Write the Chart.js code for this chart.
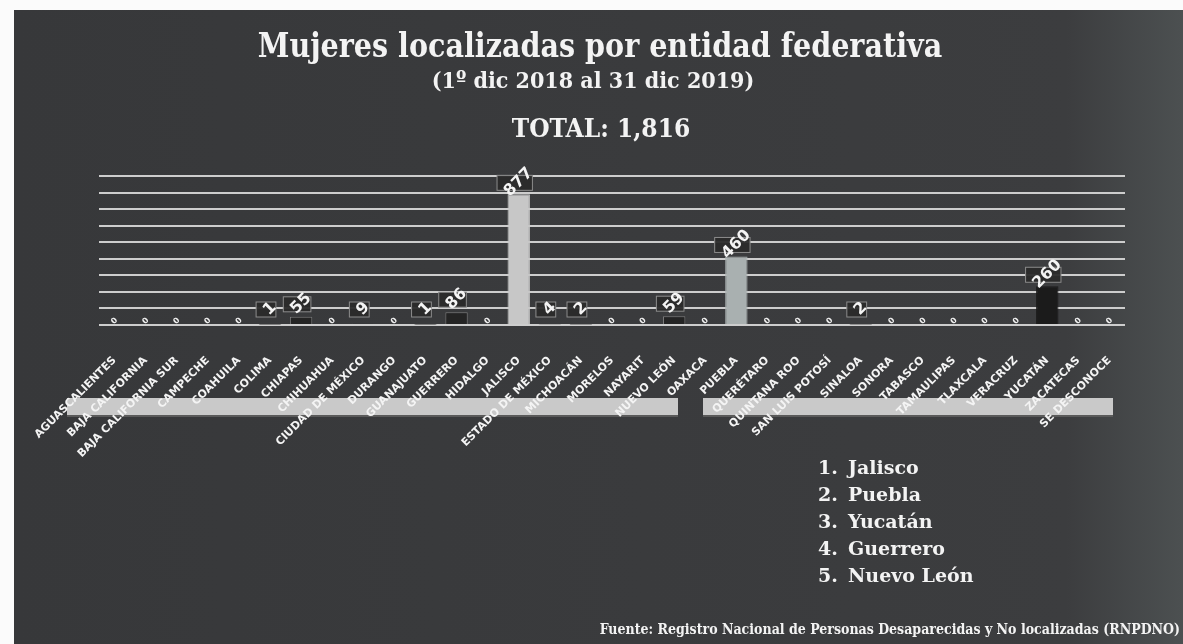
<!DOCTYPE html>
<html>
<head>
<meta charset="utf-8">
<script src="https://cdn.jsdelivr.net/npm/chart.js@4.4.1/dist/chart.umd.min.js"></script>
<style>
  html, body { margin: 0; padding: 0; background: #fff; }
  #wrap { position: relative; width: 1183px; height: 644px; overflow: hidden; }
  #chart { position: absolute; left: 0; top: 0; }
  .txt { position: absolute; color: #f3f3f3; font-family: "DejaVu Serif Condensed", "DejaVu Serif", serif; font-weight: bold; white-space: nowrap; }
  #title { left: 0; width: 1200px; top: 25px; text-align: center; font-size: 34px; transform: scaleX(0.935); }
  #subtitle { left: 0; width: 1186px; top: 66px; text-align: center; font-size: 23px; }
  #total { left: 0; width: 1202px; top: 113px; text-align: center; font-size: 26px; }
  #top5 { left: 818px; top: 454px; font-size: 19px; line-height: 27px; font-family: "DejaVu Serif", serif; }
  #top5 span { display: inline-block; width: 30px; }
  #source { right: 3px; top: 621px; font-size: 14px; }
</style>
</head>
<body>
<div id="wrap">
  <canvas id="chart" width="1183" height="644"></canvas>
  <div class="txt" id="title">Mujeres localizadas por entidad federativa</div>
  <div class="txt" id="subtitle">(1º dic 2018 al 31 dic 2019)</div>
  <div class="txt" id="total">TOTAL: 1,816</div>
  <div class="txt" id="top5"></div>
  <div class="txt" id="source">Fuente: Registro Nacional de Personas Desaparecidas y No localizadas (RNPDNO)</div>
</div>
<script>
// estados en el orden de la grafica
const entidades = ['AGUASCALIENTES','BAJA CALIFORNIA','BAJA CALIFORNIA SUR','CAMPECHE','COAHUILA','COLIMA','CHIAPAS','CHIHUAHUA','CIUDAD DE MÉXICO','DURANGO','GUANAJUATO','GUERRERO','HIDALGO','JALISCO','ESTADO DE MÉXICO','MICHOACÁN','MORELOS','NAYARIT','NUEVO LEÓN','OAXACA','PUEBLA','QUERÉTARO','QUINTANA ROO','SAN LUIS POTOSÍ','SINALOA','SONORA','TABASCO','TAMAULIPAS','TLAXCALA','VERACRUZ','YUCATÁN','ZACATECAS','SE DESCONOCE'];
const localizadas = [0,0,0,0,0,1,55,0,9,0,1,86,0,877,4,2,0,0,59,0,460,0,0,0,2,0,0,0,0,0,260,0,0];
const topCinco = ['Jalisco','Puebla','Yucatán','Guerrero','Nuevo León'];

document.getElementById('top5').innerHTML = topCinco.map((n,i)=>'<span>'+(i+1)+'.</span>'+n).join('<br>');

const colorBarra = {'JALISCO':'#c7c7c7','PUEBLA':'#a9b0b0','YUCATÁN':'#1b1b1b'};
const fondo = {
  id: 'fondo',
  beforeDraw(chart){
    const ctx = chart.ctx;
    ctx.save();
    ctx.fillStyle = '#fbfbfb';
    ctx.fillRect(0,0,chart.width,chart.height);
    const g = ctx.createLinearGradient(14,0,chart.width,0);
    g.addColorStop(0,'#37383a');
    g.addColorStop(0.9,'#3c3d3f');
    g.addColorStop(1,'#4c5051');
    ctx.fillStyle = g;
    ctx.fillRect(14,10,chart.width-14,chart.height-10);
    // franja gris detras de los nombres
    ctx.fillStyle = '#c9c9c9';
    ctx.fillRect(67,398,611,17);
    ctx.fillRect(703,398,410,17);
    ctx.fillStyle = '#5a5a5a';
    ctx.fillRect(67,415,611,2);
    ctx.fillRect(703,415,410,2);
    ctx.restore();
  }
};

const etiquetas = {
  id: 'etiquetas',
  afterDatasetsDraw(chart){
    const ctx = chart.ctx;
    const meta = chart.getDatasetMeta(0);
    ctx.save();
    meta.data.forEach((bar,i)=>{
      const v = localizadas[i];
      const txt = String(v);
      if (v === 0) {
        ctx.font = 'bold 8px "DejaVu Sans"';
        ctx.fillStyle = '#f0f0f0';
        ctx.translate(bar.x, bar.y - 4);
        ctx.rotate(-Math.PI/4);
        ctx.textAlign = 'center'; ctx.textBaseline = 'middle';
        ctx.fillText('0',0,0);
        ctx.setTransform(1,0,0,1,0,0);
        return;
      }
      ctx.font = 'bold 16px "DejaVu Sans"';
      const w = ctx.measureText(txt).width;
      const top = Math.min(bar.y, chart.chartArea.bottom - 8);
      const cy = top - (3 + 5*txt.length) + (txt.length > 2 ? 6 : 0);
      const bw = w*0.7 + 12;
      ctx.fillStyle = 'rgba(42,42,42,0.95)';
      ctx.strokeStyle = '#8c8c8c';
      ctx.lineWidth = 1;
      ctx.fillRect(bar.x - bw/2 - 4, cy - 7, bw, 15);
      ctx.strokeRect(bar.x - bw/2 - 4, cy - 7, bw, 15);
      ctx.fillStyle = '#f4f4f4';
      ctx.translate(bar.x, cy);
      ctx.rotate(-Math.PI/4);
      ctx.textAlign = 'center'; ctx.textBaseline = 'middle';
      ctx.fillText(txt,0,0);
      ctx.setTransform(1,0,0,1,0,0);
    });
    ctx.restore();
  }
};

new Chart(document.getElementById('chart'), {
  type: 'bar',
  data: {
    labels: entidades,
    datasets: [{
      data: localizadas,
      backgroundColor: entidades.map(e => colorBarra[e] || '#242424'),
      borderColor: entidades.map(e => colorBarra[e] ? colorBarra[e] : '#7a7a7a'),
      borderWidth: 1,
      barPercentage: 0.72,
      categoryPercentage: 1
    }]
  },
  options: {
    responsive: false,
    animation: false,
    layout: { padding: { left: 99, right: 58, top: 176, bottom: 0 } },
    plugins: { legend: { display: false }, tooltip: { enabled: false } },
    scales: {
      x: {
        grid: { display: false, drawTicks: false },
        border: { display: false },
        ticks: {
          color: '#f4f4f4',
          font: { family: '"DejaVu Sans"', weight: 'bold', size: 11 },
          minRotation: 45, maxRotation: 45,
          autoSkip: false,
          padding: 29
        },
        afterFit(scale){ scale.height = 644 - 325; }
      },
      y: {
        min: 0, max: 1000,
        ticks: { display: false, count: 10 },
        grid: { color: '#cdcdcd', lineWidth: 2, drawTicks: false },
        border: { display: false },
        afterFit(scale){ scale.width = 0; }
      }
    }
  },
  plugins: [fondo, etiquetas]
});
</script>
</body>
</html>
